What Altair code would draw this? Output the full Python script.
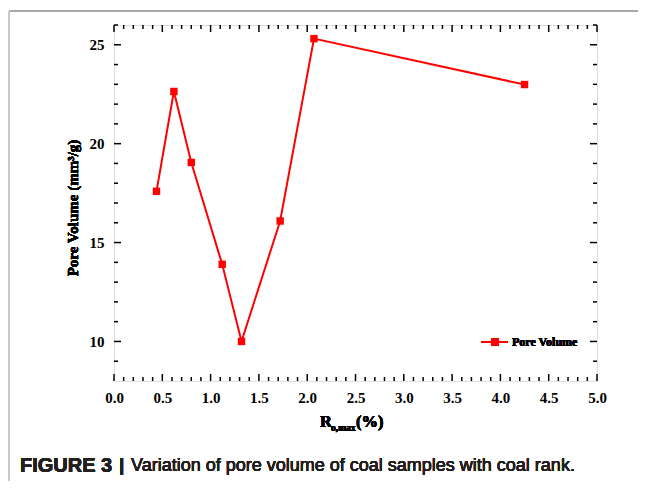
import altair as alt
import pandas as pd
import numpy as np

# data
ro_max = [0.44, 0.62, 0.80, 1.12, 1.32, 1.72, 2.07, 4.25]
pore_volume = [17.59, 22.64, 19.05, 13.9, 10.0, 16.09, 25.31, 22.99]

x_major = [0.0, 0.5, 1.0, 1.5, 2.0, 2.5, 3.0, 3.5, 4.0, 4.5, 5.0]
x_minor = [round(v, 1) for v in np.arange(0.1, 5.0, 0.1) if round(v * 10) % 5 != 0]
y_major = [10, 15, 20, 25]
y_minor = [9, 11, 12, 13, 14, 16, 17, 18, 19, 21, 22, 23, 24, 26]

W, H = 483, 356
SERIF = "Liberation Serif"
SANS = "Liberation Sans"
RED = "#ff0000"

df = pd.DataFrame({"x": ro_max, "y": pore_volume})
xs = alt.Scale(domain=[0, 5], nice=False, zero=False)
ys = alt.Scale(domain=[8, 26], nice=False, zero=False)

x_axis = alt.Axis(values=x_major, format=".1f", title=None, grid=False, ticks=False,
                  domain=False, labelFont=SERIF, labelFontWeight="bold", labelFontSize=15,
                  labelColor="black", labelPadding=9, labelFlush=False, labelOverlap=False)
y_axis = alt.Axis(values=y_major, format="d", title=None, grid=False, ticks=False,
                  domain=False, labelFont=SERIF, labelFontWeight="bold", labelFontSize=15,
                  labelColor="black", labelPadding=10, labelFlush=False, labelOverlap=False)

base = alt.Chart(df)
line = base.mark_line(color=RED, strokeWidth=2).encode(
    x=alt.X("x:Q", scale=xs, axis=x_axis),
    y=alt.Y("y:Q", scale=ys, axis=y_axis),
)
pts = base.mark_point(shape="square", filled=True, color=RED, size=55, opacity=1).encode(
    x=alt.X("x:Q", scale=xs, axis=x_axis),
    y=alt.Y("y:Q", scale=ys, axis=y_axis),
)

# ticks (inward, mirrored)
xmaj = pd.DataFrame({"t": x_major})
xmin = pd.DataFrame({"t": x_minor})
ymaj = pd.DataFrame({"t": y_major})
ymin = pd.DataFrame({"t": y_minor})

def xticks(d, length):
    b = alt.Chart(d).mark_rule(color="black", strokeWidth=1.5)
    enc = alt.X("t:Q", scale=xs, axis=x_axis)
    return (b.encode(x=enc, y=alt.value(H), y2=alt.value(H - length)) +
            b.encode(x=enc, y=alt.value(0), y2=alt.value(length)))

def yticks(d, length):
    b = alt.Chart(d).mark_rule(color="black", strokeWidth=1.5)
    enc = alt.Y("t:Q", scale=ys, axis=y_axis)
    return (b.encode(y=enc, x=alt.value(0), x2=alt.value(length)) +
            b.encode(y=enc, x=alt.value(W), x2=alt.value(W - length)))

ticks = xticks(xmaj, 7) + xticks(xmin, 4) + yticks(ymaj, 7) + yticks(ymin, 4)

# axis titles
ytitle = alt.Chart(df).mark_text(text="Pore Volume (mm³/g)", font=SERIF, fontWeight="bold",
                                 fontSize=15, angle=270, align="center", baseline="middle",
                                 color="black").encode(x=alt.value(-41), y=alt.value(183))
xt_R = alt.Chart(df).mark_text(text="R", font=SERIF, fontWeight="bold", fontSize=16.5,
                               align="left", baseline="alphabetic", color="black").encode(
    x=alt.value(206), y=alt.value(402))
xt_sub = alt.Chart(df).mark_text(text="o,max", font=SERIF, fontWeight="bold", fontSize=9.5,
                                 align="left", baseline="alphabetic", color="black").encode(
    x=alt.value(217), y=alt.value(406))
xt_pct = alt.Chart(df).mark_text(text="(%)", font=SERIF, fontWeight="bold", fontSize=16.5,
                                 align="left", baseline="alphabetic", color="black").encode(
    x=alt.value(242), y=alt.value(402))

# legend
leg_line = alt.Chart(df).mark_rule(color=RED, strokeWidth=2).encode(
    x=alt.value(367), x2=alt.value(394), y=alt.value(317))
leg_sq = alt.Chart(df).mark_point(shape="square", filled=True, color=RED, size=55, opacity=1).encode(
    x=alt.value(381), y=alt.value(317))
leg_txt = alt.Chart(df).mark_text(text="Pore Volume", font=SERIF, fontWeight="bold", fontSize=12,
                                  align="left", baseline="middle", color="black").encode(
    x=alt.value(398), y=alt.value(317))

# page frame + caption
frame_h = alt.Chart(df).mark_rule(color="#a8a8a8", strokeWidth=2).encode(
    x=alt.value(-105), x2=alt.value(540), y=alt.value(-14))
frame_v = alt.Chart(df).mark_rule(color="#c8c8c8", strokeWidth=2).encode(
    x=alt.value(-105), y=alt.value(-14), y2=alt.value(470))
cap_b = alt.Chart(df).mark_text(text="FIGURE 3", font=SANS, fontWeight="bold", fontSize=20,
                                align="left", baseline="middle", color="#231f20").encode(
    x=alt.value(-94), y=alt.value(441))
cap_bar = alt.Chart(df).mark_text(text="|", font=SANS, fontWeight="bold", fontSize=19,
                                  align="left", baseline="middle", color="#231f20").encode(
    x=alt.value(5), y=alt.value(440))
cap_r = alt.Chart(df).mark_text(text="Variation of pore volume of coal samples with coal rank.",
                                font=SANS, fontSize=18, align="left", baseline="middle",
                                color="#231f20").encode(x=alt.value(17), y=alt.value(441))

chart = alt.layer(
    frame_h, frame_v, line, pts, ticks, ytitle, xt_R, xt_sub, xt_pct,
    leg_line, leg_sq, leg_txt, cap_b, cap_bar, cap_r
).properties(
    width=W, height=H,
    autosize=alt.AutoSizeParams(type="none"),
    padding={"left": 106, "top": 17, "right": 41, "bottom": 100},
).configure_view(stroke="black", strokeWidth=2).configure(background="white")

chart.save("out.html", embed_options={"renderer": "svg", "actions": False})
